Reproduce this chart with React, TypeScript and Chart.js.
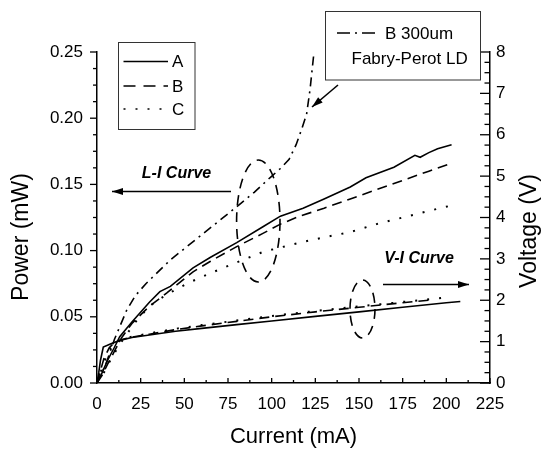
import React, { useEffect, useRef } from 'react';
import { Chart, registerables } from 'chart.js';
Chart.register(...registerables);

const FONT = "'Liberation Sans', Arial, Helvetica, sans-serif";

// L-I curves (Power, mW) vs current (mA)
const liCurrentA = [0, 3, 6, 10, 13, 20, 30, 36, 42, 55, 65, 80, 95, 105, 118, 130, 145, 154, 170, 182, 185, 190, 195, 203];
const liPowerA = [0, 0.008, 0.017, 0.027, 0.035, 0.046, 0.061, 0.069, 0.073, 0.087, 0.095, 0.106, 0.118, 0.126, 0.132, 0.139, 0.148, 0.155, 0.163, 0.172, 0.1705, 0.174, 0.177, 0.180];
const liCurrentB = [0, 3, 6, 10, 14, 20, 30, 40, 55, 65, 80, 95, 105, 116, 130, 145, 160, 175, 190, 203];
const liPowerB = [0, 0.006, 0.014, 0.024, 0.034, 0.045, 0.058, 0.068, 0.084, 0.092, 0.103, 0.113, 0.120, 0.126, 0.132, 0.139, 0.146, 0.153, 0.160, 0.166];
const liCurrentC = [0, 4, 8, 12, 16, 22, 30, 40, 53, 65, 78, 95, 116, 130, 145, 160, 175, 190, 206];
const liPowerC = [0, 0.008, 0.018, 0.027, 0.035, 0.046, 0.058, 0.067, 0.076, 0.083, 0.090, 0.099, 0.106, 0.110, 0.114, 0.120, 0.125, 0.130, 0.135];
const liCurrentFP = [0, 5, 10, 17, 22, 28, 42, 59, 78, 90, 99, 105, 110, 114, 117, 120, 122, 124];
const liPowerFP = [0, 0.014, 0.033, 0.055, 0.066, 0.075, 0.093, 0.111, 0.131, 0.144, 0.155, 0.162, 0.169, 0.180, 0.191, 0.203, 0.222, 0.247];

// V-I curves (Voltage, V) vs current (mA)
const viCurrentA = [0, 1, 2, 3.6, 8, 13, 20, 30, 45, 60, 80, 100, 125, 150, 175, 200, 208];
const viVoltA = [0, 0.25, 0.55, 0.87, 0.95, 1.03, 1.1, 1.16, 1.25, 1.32, 1.41, 1.5, 1.61, 1.72, 1.83, 1.94, 1.97];
const viCurrentB = [0, 2, 4, 7, 10, 15, 20, 30, 45, 60, 80, 100, 125, 150, 175, 192];
const viVoltB = [0, 0.3, 0.6, 0.85, 0.98, 1.06, 1.11, 1.18, 1.29, 1.38, 1.49, 1.6, 1.72, 1.83, 1.94, 2.01];
const viCurrentC = [0, 2, 4, 7, 10, 15, 20, 30, 45, 60, 80, 100, 125, 150, 175, 199];
const viVoltC = [0, 0.25, 0.5, 0.8, 0.95, 1.06, 1.12, 1.2, 1.31, 1.4, 1.51, 1.62, 1.74, 1.85, 1.96, 2.06];

const xRange = [0, 225];
const yRange = [0, 0.25];
const y1Range = [0, 8];
const xStep = 25;
const yStep = 0.05;
const y1Step = 1;

const DASH_B = [10, 6];
const DASH_C = [2, 10];
const DASH_FP = [9, 5, 2, 5];

function pts(xs: number[], ys: number[]) {
  return xs.map((x, i) => ({ x, y: ys[i] }));
}

function arrow(ctx: CanvasRenderingContext2D, x1: number, y1: number, x2: number, y2: number) {
  ctx.beginPath();
  ctx.moveTo(x1, y1);
  ctx.lineTo(x2, y2);
  ctx.stroke();
  const a = Math.atan2(y2 - y1, x2 - x1);
  const L = 11, W = 3.5;
  ctx.beginPath();
  ctx.moveTo(x2, y2);
  ctx.lineTo(x2 - L * Math.cos(a) + W * Math.sin(a), y2 - L * Math.sin(a) - W * Math.cos(a));
  ctx.lineTo(x2 - L * Math.cos(a) - W * Math.sin(a), y2 - L * Math.sin(a) + W * Math.cos(a));
  ctx.closePath();
  ctx.fill();
}

const decorPlugin = {
  id: 'decor',
  afterDraw(chart: any) {
    const ctx: CanvasRenderingContext2D = chart.ctx;
    const xs = chart.scales.x, ys = chart.scales.y, y1s = chart.scales.y1;
    const area = chart.chartArea;
    ctx.save();
    ctx.strokeStyle = '#000';
    ctx.fillStyle = '#000';
    ctx.lineWidth = 1.3;
    ctx.setLineDash([]);
    // x ticks (inward)
    for (let i = 0; i <= 18; i++) {
      const v = i * 12.5;
      const px = xs.getPixelForValue(v);
      const len = i % 2 === 0 ? 5 : 3;
      ctx.beginPath(); ctx.moveTo(px, area.bottom); ctx.lineTo(px, area.bottom - len); ctx.stroke();
    }
    // left y ticks (outward)
    for (let i = 0; i <= 20; i++) {
      const v = i * 0.0125;
      const py = ys.getPixelForValue(v);
      const len = i % 4 === 0 ? 7 : 4;
      ctx.beginPath(); ctx.moveTo(area.left, py); ctx.lineTo(area.left - len, py); ctx.stroke();
    }
    // right y ticks (inward)
    for (let i = 0; i <= 32; i++) {
      const v = i * 0.25;
      const py = y1s.getPixelForValue(v);
      const len = i % 4 === 0 ? 10 : 5.5;
      ctx.beginPath(); ctx.moveTo(area.right, py); ctx.lineTo(area.right - len, py); ctx.stroke();
    }

    // axis titles (vertical)
    ctx.font = `23px ${FONT}`;
    ctx.textAlign = 'center';
    ctx.textBaseline = 'middle';
    ctx.save();
    ctx.translate(22, 237);
    ctx.rotate(-Math.PI / 2);
    ctx.fillText('Power (mW)', 0, 0);
    ctx.restore();
    ctx.save();
    ctx.translate(530, 231);
    ctx.rotate(-Math.PI / 2);
    ctx.fillText('Voltage (V)', 0, 0);
    ctx.restore();

    // legend box A/B/C
    ctx.lineWidth = 1;
    ctx.strokeStyle = '#333';
    ctx.strokeRect(118.5, 42.5, 76.5, 87);
    ctx.strokeStyle = '#000';
    ctx.lineWidth = 1.6;
    const legendRows: [number[], string, number][] = [[[], 'A', 61.5], [[12, 8], 'B', 86], [DASH_C, 'C', 109]];
    ctx.font = `17px ${FONT}`;
    ctx.textAlign = 'left';
    for (const [dash, label, yy] of legendRows) {
      ctx.setLineDash(dash);
      ctx.beginPath(); ctx.moveTo(123.5, yy); ctx.lineTo(168, yy); ctx.stroke();
      ctx.setLineDash([]);
      ctx.fillText(label, 172, yy + 1);
    }

    // top-right box
    ctx.lineWidth = 1;
    ctx.strokeStyle = '#333';
    ctx.strokeRect(325.5, 11.5, 155, 68.5);
    ctx.strokeStyle = '#000';
    ctx.lineWidth = 1.6;
    ctx.setLineDash([13, 5, 2, 5]);
    ctx.beginPath(); ctx.moveTo(337, 33); ctx.lineTo(377, 33); ctx.stroke();
    ctx.setLineDash([]);
    ctx.fillText('B 300um', 385, 34);
    ctx.fillText('Fabry-Perot LD', 351.5, 59);

    // arrows
    ctx.lineWidth = 1.6;
    arrow(ctx, 338, 85, 312, 107);
    arrow(ctx, 231, 191.5, 112, 191.5);
    arrow(ctx, 383, 284.5, 469, 284.5);

    // curve labels
    ctx.font = `italic bold 16px ${FONT}`;
    ctx.textAlign = 'center';
    ctx.fillText('L-I Curve', 176.5, 173.5);
    ctx.fillText('V-I Curve', 419, 258.5);

    // dashed ellipses
    ctx.lineWidth = 1.6;
    ctx.setLineDash([10, 7]);
    ctx.beginPath(); ctx.ellipse(258.3, 221, 21.7, 61, 0, 0, Math.PI * 2); ctx.stroke();
    ctx.beginPath(); ctx.ellipse(362.5, 309, 12.5, 29, 0, 0, Math.PI * 2); ctx.stroke();
    ctx.restore();
  },
};

export default function App() {
  const ref = useRef<HTMLCanvasElement | null>(null);
  useEffect(() => {
    if (!ref.current) return;
    const base = { borderColor: '#000', borderWidth: 1.6, pointRadius: 0, tension: 0, fill: false };
    const chart = new Chart(ref.current, {
      type: 'line',
      data: {
        datasets: [
          { ...base, label: 'A L-I', data: pts(liCurrentA, liPowerA), yAxisID: 'y' },
          { ...base, label: 'B L-I', data: pts(liCurrentB, liPowerB), yAxisID: 'y', borderDash: DASH_B },
          { ...base, label: 'C L-I', data: pts(liCurrentC, liPowerC), yAxisID: 'y', borderDash: DASH_C, borderWidth: 2 },
          { ...base, label: 'B 300um L-I', data: pts(liCurrentFP, liPowerFP), yAxisID: 'y', borderDash: DASH_FP },
          { ...base, label: 'A V-I', data: pts(viCurrentA, viVoltA), yAxisID: 'y1' },
          { ...base, label: 'B V-I', data: pts(viCurrentB, viVoltB), yAxisID: 'y1', borderDash: DASH_B },
          { ...base, label: 'C V-I', data: pts(viCurrentC, viVoltC), yAxisID: 'y1', borderDash: DASH_C, borderWidth: 2 },
        ],
      },
      options: {
        animation: false,
        responsive: false,
        maintainAspectRatio: false,
        layout: { padding: { top: 52, left: 0, right: 0, bottom: 0 } },
        plugins: { legend: { display: false }, tooltip: { enabled: false }, title: { display: false } },
        scales: {
          x: {
            type: 'linear',
            min: xRange[0], max: xRange[1],
            grid: { display: false, drawTicks: false },
            border: { display: true, color: '#000', width: 1.5 },
            ticks: { stepSize: xStep, color: '#000', padding: 11, font: { family: FONT, size: 17 } },
            title: { display: true, text: 'Current (mA)', color: '#000', font: { family: FONT, size: 22 }, padding: { top: 0, bottom: 1 } },
            afterFit: (s: any) => { s.height = 68; },
          },
          y: {
            type: 'linear', position: 'left',
            min: yRange[0], max: yRange[1],
            grid: { display: false, drawTicks: false },
            border: { display: true, color: '#000', width: 1.5 },
            ticks: { stepSize: yStep, color: '#000', padding: 14, font: { family: FONT, size: 17 }, callback: (v: any) => Number(v).toFixed(2) },
            afterFit: (s: any) => { s.width = 97; },
          },
          y1: {
            type: 'linear', position: 'right',
            min: y1Range[0], max: y1Range[1],
            grid: { display: false, drawTicks: false },
            border: { display: true, color: '#000', width: 1.5 },
            ticks: { stepSize: y1Step, color: '#000', padding: 6, font: { family: FONT, size: 17 } },
            afterFit: (s: any) => { s.width = 53; },
          },
        },
      },
      plugins: [decorPlugin],
    } as any);
    return () => chart.destroy();
  }, []);
  return (
    <div style={{ position: 'absolute', left: 0, top: 0, width: 543, height: 451, background: '#fff' }}>
      <canvas ref={ref} width={543} height={451} style={{ display: 'block' }} />
    </div>
  );
}
